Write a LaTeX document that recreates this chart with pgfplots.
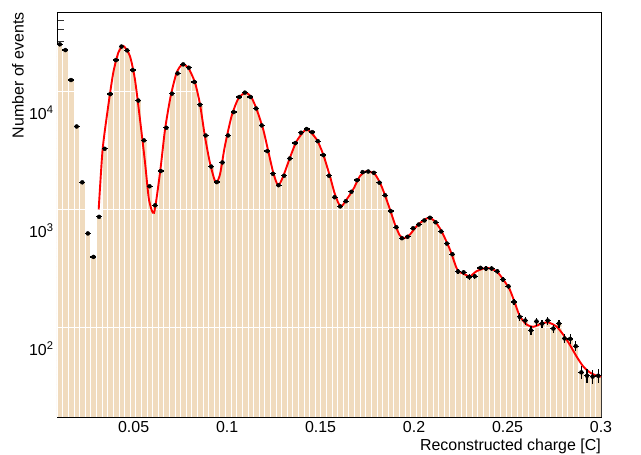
\documentclass[border=0pt]{standalone}
\usepackage{fontspec}
\setmainfont{Liberation Sans}
\usepackage{pgfplots}
\usepackage{pgfplotstable}
\pgfplotsset{compat=1.18}
\definecolor{histfill}{RGB}{240,219,190}
\definecolor{rootred}{RGB}{255,0,0}

\pgfplotstableread{
e c y ey
0.009 0.0105 37700 194
0.012 0.0135 33700 184
0.015 0.0165 18800 137
0.018 0.0195 7600 87
0.021 0.0225 2560 51
0.024 0.0255 945 31
0.027 0.0285 598 24
0.030 0.0315 1306 36
0.033 0.0345 4920 70
0.036 0.0375 14300 120
0.039 0.0405 27700 166
0.042 0.0435 36100 190
0.045 0.0465 33500 183
0.048 0.0495 22800 151
0.051 0.0525 12600 112
0.054 0.0555 5800 76
0.057 0.0585 2370 49
0.060 0.0615 1636 40
0.063 0.0645 3190 56
0.066 0.0675 7410 86
0.069 0.0705 14400 120
0.072 0.0735 21400 146
0.075 0.0765 25500 160
0.078 0.0795 23900 155
0.081 0.0825 18100 135
0.084 0.0855 11600 108
0.087 0.0885 6380 80
0.090 0.0915 3480 59
0.093 0.0945 2570 51
0.096 0.0975 3770 61
0.099 0.1005 6380 80
0.102 0.1035 10060 100
0.105 0.1065 13500 116
0.108 0.1095 14700 121
0.111 0.1125 13500 116
0.114 0.1155 10800 104
0.117 0.1185 7760 88
0.120 0.1215 4700 69
0.123 0.1245 3020 55
0.126 0.1275 2420 49
0.129 0.1305 2910 54
0.132 0.1335 4070 64
0.135 0.1365 5500 74
0.138 0.1395 6730 82
0.141 0.1425 7230 85
0.144 0.1455 6810 83
0.147 0.1485 5710 76
0.150 0.1515 4350 66
0.153 0.1545 2910 54
0.156 0.1575 1915 44
0.159 0.1605 1600 40
0.162 0.1635 1770 42
0.165 0.1665 2130 46
0.168 0.1695 2670 52
0.171 0.1725 3120 56
0.174 0.1755 3160 56
0.177 0.1785 3080 55
0.180 0.1815 2540 50
0.183 0.1845 1990 45
0.186 0.1875 1460 38
0.189 0.1905 1067 33
0.192 0.1935 861 29
0.195 0.1965 885 30
0.198 0.1995 1046 32
0.201 0.2025 1124 34
0.204 0.2055 1217 35
0.207 0.2085 1283 36
0.210 0.2115 1175 34
0.213 0.2145 982 31
0.216 0.2175 776 28
0.219 0.2205 630 25
0.222 0.2235 450 21
0.225 0.2265 443 21
0.228 0.2295 405 20
0.231 0.2325 410 20
0.234 0.2355 483 22
0.237 0.2385 477 22
0.240 0.2415 477 22
0.243 0.2445 452 21
0.246 0.2475 385 20
0.249 0.2505 337 18
0.252 0.2535 249 16
0.255 0.2565 186 14
0.258 0.2595 173 13
0.261 0.2625 143 12
0.264 0.2655 170 13
0.267 0.2685 163 13
0.270 0.2715 173 13
0.273 0.2745 148 12
0.276 0.2775 163 13
0.279 0.2805 122 11
0.282 0.2835 121 11
0.285 0.2865 105 10
0.288 0.2895 63 8
0.291 0.2925 59 8
0.294 0.2955 58 8
0.297 0.2985 59 8
0.300 0.3015 59 0
}\histdata

\pgfplotstableread{
x y
0.0313 1507
0.0334 4850
0.0364 11300
0.0391 21700
0.0418 32000
0.0445 36500
0.0480 30000
0.0507 19000
0.0534 8720
0.0561 3750
0.0582 1830
0.0609 1413
0.0641 3080
0.0668 7180
0.0698 13700
0.0730 21700
0.0760 25500
0.0792 23900
0.0828 17900
0.0855 11700
0.0881 6300
0.0908 3750
0.0939 2540
0.0962 2990
0.0988 5190
0.1024 9310
0.1060 13100
0.1099 14700
0.1131 13300
0.1158 10600
0.1193 7180
0.1220 4700
0.1247 3080
0.1273 2400
0.1300 2880
0.1336 4130
0.1372 5710
0.1425 7180
0.1479 5900
0.1514 4400
0.1550 2880
0.1577 2020
0.1607 1590
0.1639 1830
0.1674 2220
0.1710 2880
0.1746 3180
0.1791 2990
0.1826 2370
0.1862 1660
0.1898 1124
0.1924 908
0.1947 861
0.1978 925
0.2022 1124
0.2076 1283
0.2111 1200
0.2147 986
0.2192 690
0.2231 467
0.2263 432
0.2299 410
0.2334 452
0.2388 483
0.2441 452
0.2477 385
0.2512 316
0.2539 244
0.2566 188
0.2602 160
0.2637 153
0.2682 163
0.2717 167
0.2762 154
0.2797 132
0.2833 108
0.2869 86
0.2904 71
0.2940 63
0.2976 59
0.3000 58
}\fitdata

\begin{document}
\begin{tikzpicture}
\begin{axis}[
  scale only axis, width=544bp, height=405bp,
  ymode=log,
  xmin=0.009, xmax=0.3, ymin=26.4, ymax=70800,
  axis line style={line width=0.9bp, black},
  xtick={0.05,0.1,0.15,0.2,0.25,0.3},
  xticklabels={0.05,0.1,0.15,0.2,0.25,0.3},
  minor xtick={0.01,0.02,0.03,0.04,0.06,0.07,0.08,0.09,0.11,0.12,0.13,0.14,0.16,0.17,0.18,0.19,0.21,0.22,0.23,0.24,0.26,0.27,0.28,0.29},
  ytick={100,1000,10000},
  yticklabels={10\textsuperscript{2},10\textsuperscript{3},10\textsuperscript{4}},
  minor ytick={30,40,50,60,70,80,90,200,300,400,500,600,700,800,900,2000,3000,4000,5000,6000,7000,8000,9000,20000,30000,40000,50000,60000,70000},
  tick align=inside, xtick pos=left, ytick pos=left,
  major tick length=13bp, minor tick length=7bp,
  tick style={line width=0.8bp, black!80},
  ticklabel style={font=\fontsize{16}{19}\selectfont},
  xticklabel style={yshift=-1bp},
  xlabel={Reconstructed charge [C]},
  ylabel={Number of events},
  label style={font=\fontsize{16}{19}\selectfont},
  xlabel style={at={(axis description cs:1,-0.0716)}, anchor=east, inner sep=0pt},
  ylabel style={at={(axis description cs:-0.0717,1)}, anchor=east, inner sep=0pt},
  clip=true,
]
\addplot[ybar interval, fill=histfill, draw=white, line width=0.3bp] table[x=e, y=y] {\histdata};
\addplot[white, line width=0.8bp, forget plot] coordinates {(0.009,150) (0.3,150)};
\addplot[white, line width=0.8bp, forget plot] coordinates {(0.009,1500) (0.3,1500)};
\addplot[white, line width=0.8bp, forget plot] coordinates {(0.009,15000) (0.3,15000)};
\addplot[rootred, line width=1.9bp, smooth, tension=0.4, mark=none] table[x=x, y=y] {\fitdata};
\addplot[black, only marks, mark=none,
  skip coords between index={97}{98},
  error bars/.cd, x dir=both, x fixed=0.0016, y dir=both, y explicit,
  error mark=none, error bar style={line width=1.3bp, black}]
  table[x=c, y=y, y error=ey] {\histdata};
\node[anchor=west, inner sep=0pt, font=\fontsize{15}{18}\selectfont] at (axis description cs:1.001,0.016) {×10\textsuperscript{−9}};
\end{axis}
\pgfresetboundingbox
\path[use as bounding box] ([shift={(-57bp,-38bp)}]current axis.south west) rectangle ([shift={(40bp,12bp)}]current axis.north east);
\end{tikzpicture}
\end{document}
